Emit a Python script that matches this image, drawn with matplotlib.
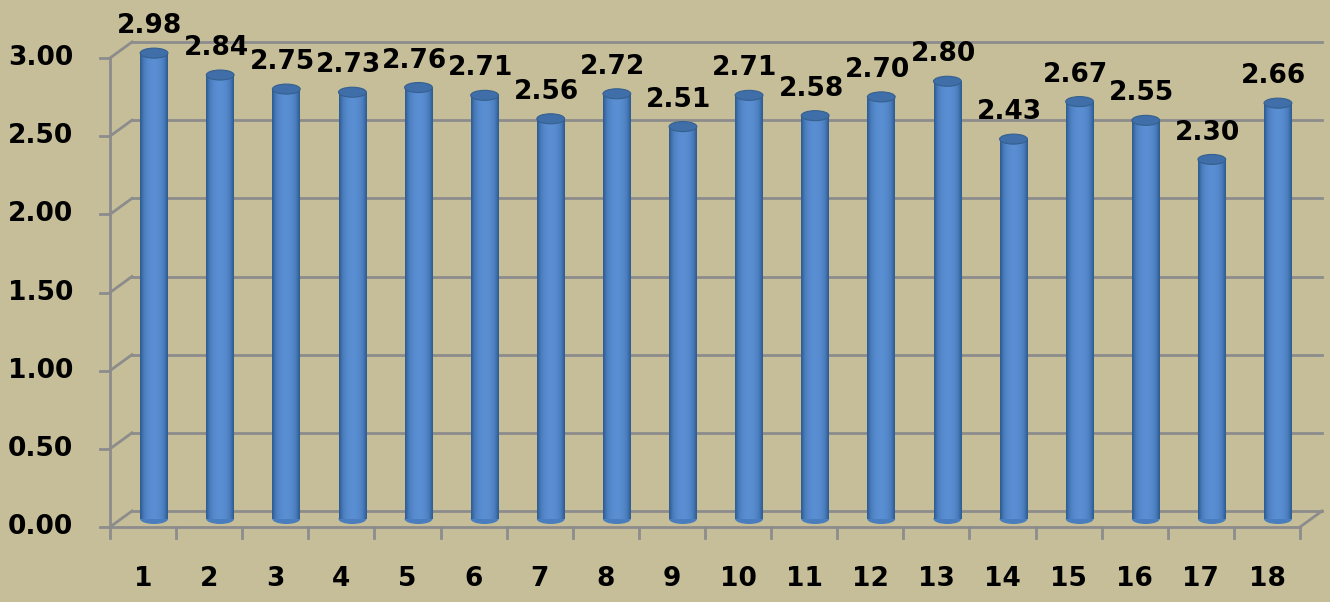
import matplotlib.pyplot as plt
import matplotlib.transforms as mtransforms
from matplotlib.patches import Ellipse
import numpy as np

categories = [str(i) for i in range(1, 19)]
values = [2.98, 2.84, 2.75, 2.73, 2.76, 2.71, 2.56, 2.72, 2.51,
          2.71, 2.58, 2.70, 2.80, 2.43, 2.67, 2.55, 2.30, 2.66]
yticks = [0.0, 0.5, 1.0, 1.5, 2.0, 2.5, 3.0]

bg = '#C6BE98'
grid_c = '#8C8C8C'
plt.rcParams['font.family'] = ['DejaVu Sans']
fs = 19

fig = plt.figure(figsize=(13.3, 6.02), dpi=100, facecolor=bg)
# main axes = middle depth plane, where the cylinders stand
ax = fig.add_axes([121 / 1330, (602 - 519) / 602, 1190 / 1330, 469 / 602])
ax.set_xlim(0.5, 18.5)
ax.set_ylim(0, 3.0)
ax.axis('off')

dx, dy = 11 / 100, 8 / 100
back = ax.transData + mtransforms.ScaledTranslation(dx, dy, fig.dpi_scale_trans)
front = ax.transData + mtransforms.ScaledTranslation(-dx, -dy, fig.dpi_scale_trans)

x = np.arange(1, len(values) + 1)
lw = 2

# back wall grid + left wall diagonals
for t in yticks:
    ax.plot([0.5, 18.5], [t, t], color=grid_c, lw=lw, transform=back, clip_on=False)
    p0 = front.transform((0.5, t))
    p1 = back.transform((0.5, t))
    ax.plot([p0[0], p1[0]], [p0[1], p1[1]], color=grid_c, lw=lw,
            transform=None, clip_on=False)
    ax.plot([p0[0], p0[0] - 10], [p0[1], p0[1]], color=grid_c, lw=lw,
            transform=None, clip_on=False)
    ax.text(p0[0] - 37, p0[1], f'{t:.2f}', transform=None, ha='right', va='center',
            fontsize=fs, fontweight='bold', color='black')

# floor
ax.plot([0.5, 18.5], [0, 0], color=grid_c, lw=lw, transform=front, clip_on=False)
q0 = front.transform((18.5, 0))
q1 = back.transform((18.5, 0))
ax.plot([q0[0], q1[0]], [q0[1], q1[1]], color=grid_c, lw=lw, transform=None, clip_on=False)
# front y axis
ax.plot([0.5, 0.5], [0, 3.0], color=grid_c, lw=lw, transform=front, clip_on=False)
# x ticks at category boundaries
for b in np.arange(0.5, 18.6, 1.0):
    p = front.transform((b, 0))
    ax.plot([p[0], p[0]], [p[1], p[1] - 11], color=grid_c, lw=lw,
            transform=None, clip_on=False)
for xi, c in zip(x, categories):
    p = front.transform((xi, 0))
    ax.text(p[0], p[1] - 52, c, transform=None, ha='center', va='center',
            fontsize=fs, fontweight='bold', color='black')

# cylinders
w = 0.42
cap_h = 10 / 156.3
grad = np.linspace(-1, 1, 64)
shade = 1 - grad ** 2
cmap = plt.matplotlib.colors.LinearSegmentedColormap.from_list(
    'cyl', ['#2E5A8E', '#4A7DBE', '#5B8FD3'])
for xi, v in zip(x, values):
    body = ax.bar(xi, v, width=w, color='none', edgecolor='none')[0]
    im = ax.imshow(shade[np.newaxis, :], cmap=cmap, aspect='auto',
                   extent=[xi - w / 2, xi + w / 2, 0, v], zorder=3)
    im.set_clip_path(body)
    bottom = Ellipse((xi, 0), w, cap_h, facecolor='#4A7DBE', edgecolor='none',
                     zorder=2.9, clip_on=False)
    ax.add_patch(bottom)
    top = Ellipse((xi, v), w, cap_h, facecolor='#3F6EA8', edgecolor='#35608F',
                  lw=0.8, zorder=4, clip_on=False)
    ax.add_patch(top)
    ax.annotate(f'{v:.2f}', (xi, v), xytext=(-3, 10), textcoords='offset points',
                ha='center', va='bottom', fontsize=fs, fontweight='bold',
                color='black', zorder=5, annotation_clip=False)

ax.set_xlim(0.5, 18.5)
ax.set_ylim(0, 3.0)
fig.savefig('out.png', dpi=100, facecolor=bg)
